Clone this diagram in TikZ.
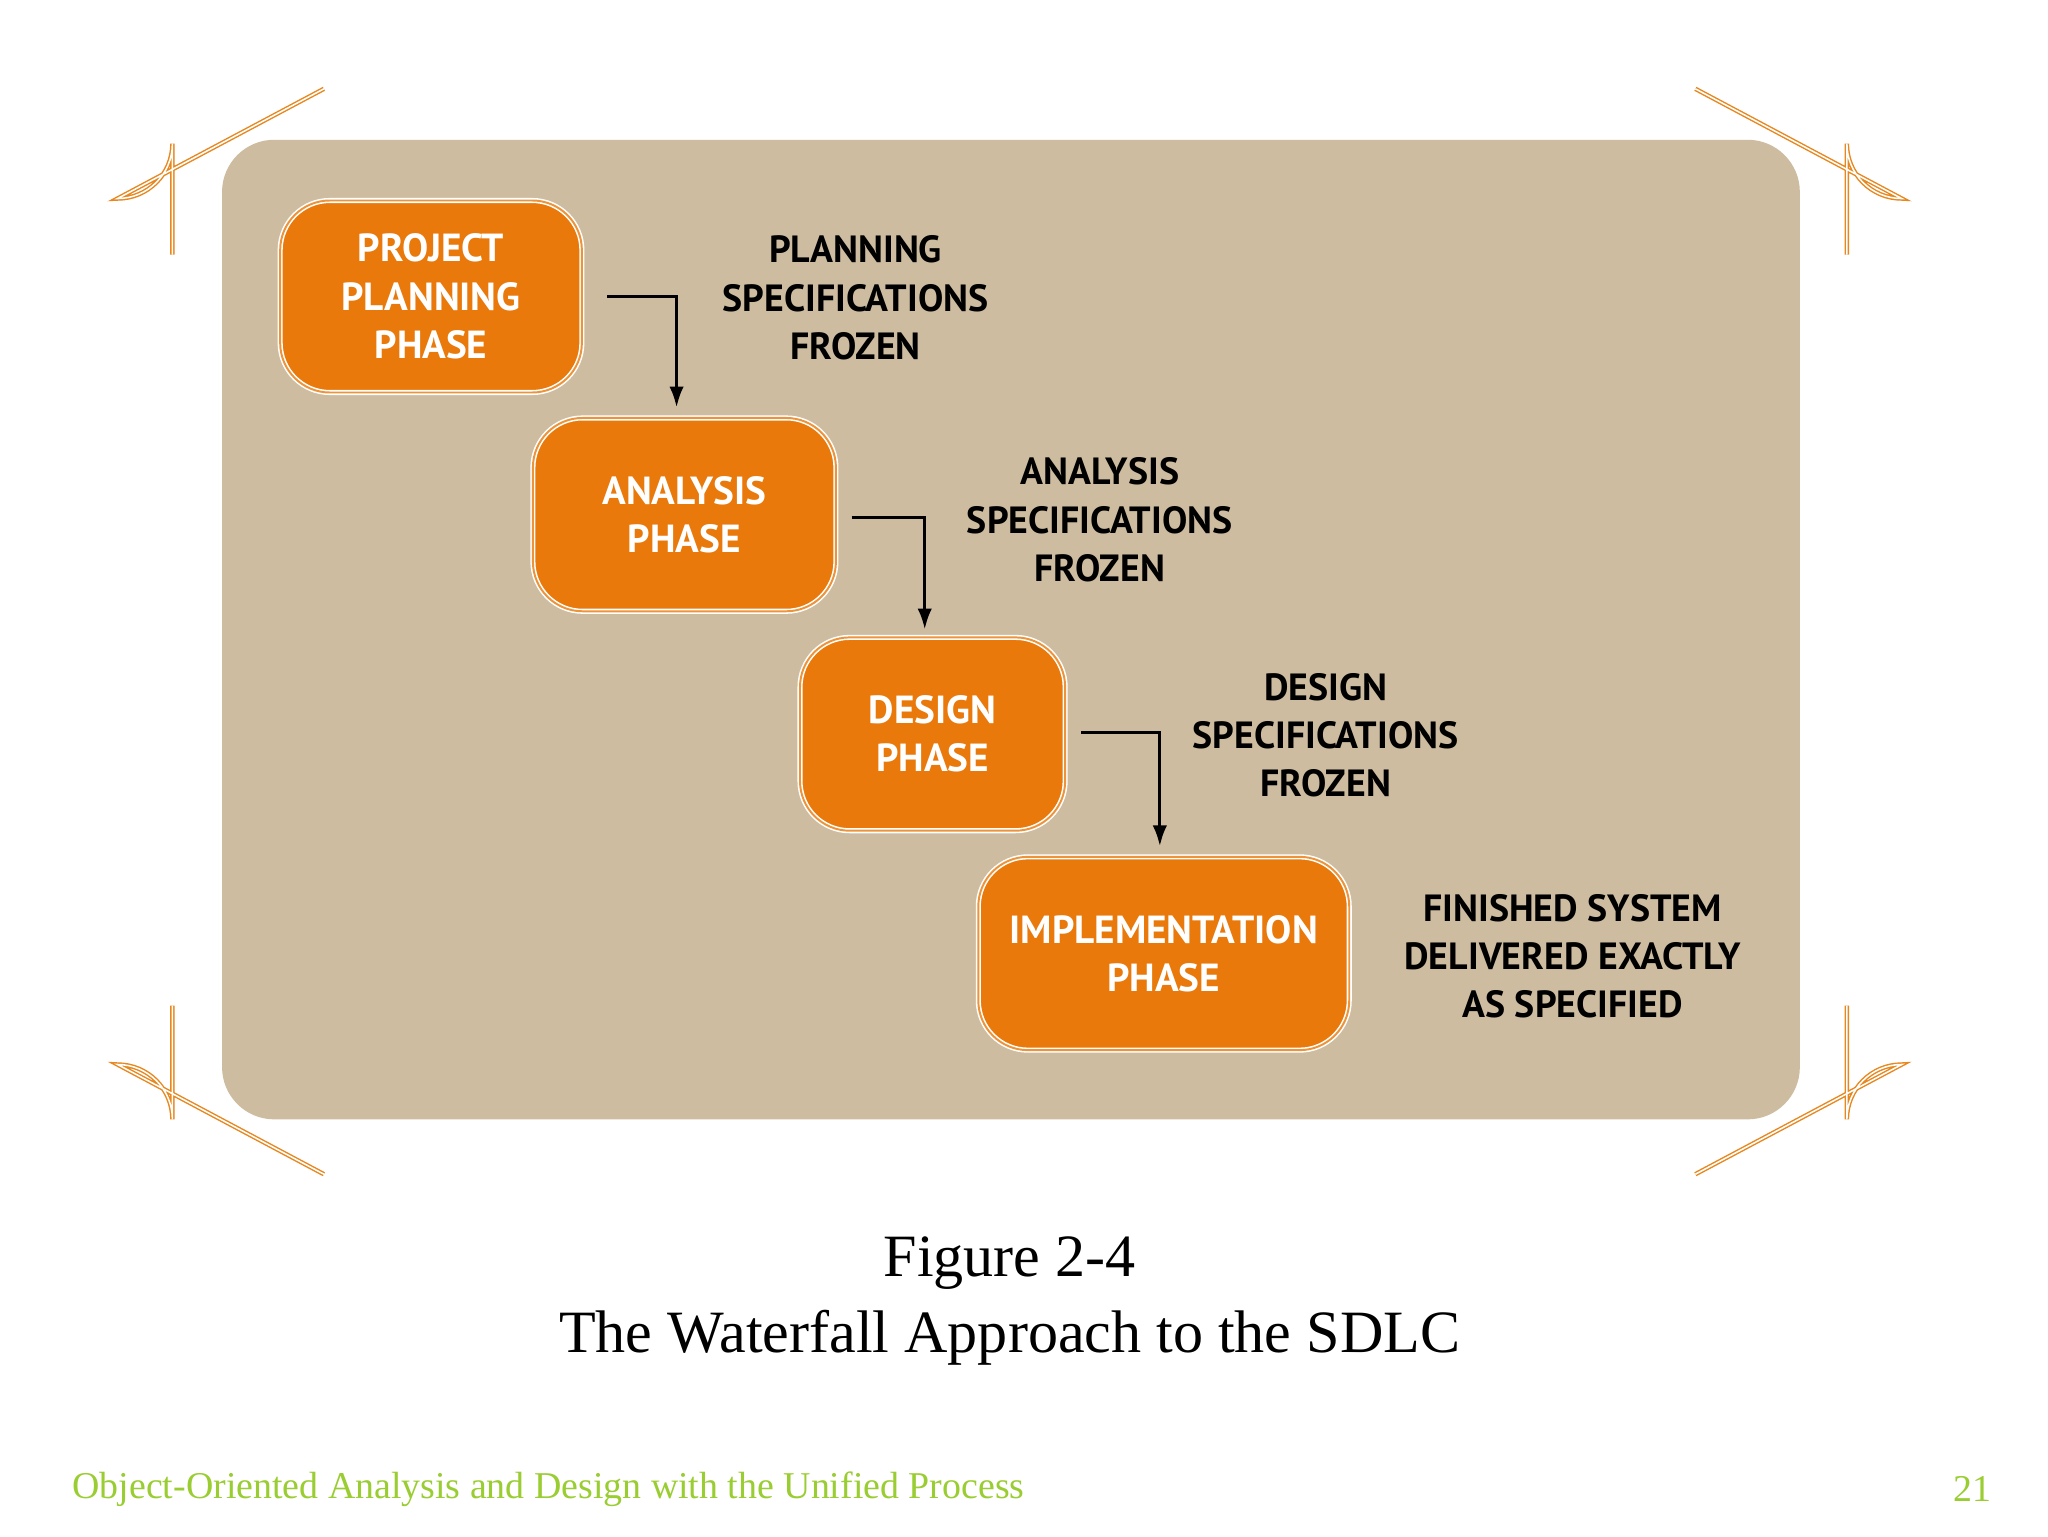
\documentclass[tikz,border=0pt]{standalone}
\usepackage{fontspec}
\setmainfont{Liberation Serif}
\newfontfamily\boxfont{PT Sans}
\definecolor{beige}{HTML}{CDBCA0}
\definecolor{phor}{HTML}{E8790A}
\definecolor{brk}{HTML}{E8871E}
\definecolor{foot}{HTML}{9ACD32}
\begin{document}
\begin{tikzpicture}[x=1pt,y=-1pt,
  phase/.style={draw=white,double=phor!80!white,double distance=1.5pt,line width=1.2pt,fill=phor,rounded corners=38pt,
    align=center,text=white,font=\boxfont\bfseries\fontsize{30}{37}\selectfont,inner sep=0pt},
  lbl/.style={align=center,font=\boxfont\bfseries\fontsize{29}{37}\selectfont},
  flow/.style={line width=2.5pt,-{Latex[length=16pt,width=11pt]}},
  brack/.style={brk,double=white,double distance=1.2pt,line width=1.1pt}]
\usetikzlibrary{arrows.meta}
\useasboundingbox (0,0) rectangle (1568,1176);
\fill[white] (0,0) rectangle (1568,1176);
\fill[beige,rounded corners=40pt] (170,107) rectangle (1378,857);
% brackets
\draw[brack] (132,195) -- (132,110) arc[start angle=180,end angle=270,radius=-42] -- (248,68);
\draw[brack] (1414,195) -- (1414,110) arc[start angle=0,end angle=-90,radius=-42] -- (1298,68);
\draw[brack] (132,770) -- (132,857) arc[start angle=180,end angle=90,radius=-42] -- (248,899);
\draw[brack] (1414,770) -- (1414,857) arc[start angle=0,end angle=90,radius=-42] -- (1298,899);
% phases
\node[phase,minimum width=231pt,minimum height=147pt] (p1) at (330,227) {PROJECT\\PLANNING\\PHASE};
\node[phase,minimum width=232pt,minimum height=148pt] (p2) at (524,394) {ANALYSIS\\PHASE};
\node[phase,minimum width=203pt,minimum height=148pt] (p3) at (714,562) {DESIGN\\PHASE};
\node[phase,minimum width=284pt,minimum height=148pt] (p4) at (891,730) {IMPLEMENTATION\\PHASE};
\coordinate (a1) at (465,227); \coordinate (b1) at (518,227);
\coordinate (a2) at (652,396); \coordinate (b2) at (708,396);
\coordinate (a3) at (828,561); \coordinate (b3) at (888,561);
\draw[flow] (a1) -- (b1) -- (518,312);
\draw[flow] (a2) -- (b2) -- (708,482);
\draw[flow] (a3) -- (b3) -- (888,648);
\node[lbl] (l1) at (655,228) {PLANNING\\SPECIFICATIONS\\FROZEN};
\node[lbl] (l2) at (842,398) {ANALYSIS\\SPECIFICATIONS\\FROZEN};
\node[lbl] (l3) at (1015,563) {DESIGN\\SPECIFICATIONS\\FROZEN};
\node[lbl] (l4) at (1204,732) {FINISHED SYSTEM\\DELIVERED EXACTLY\\AS SPECIFIED};
\node[font=\fontsize{46}{58}\selectfont,align=center] (cap) at (773,996) {Figure 2-4\\The Waterfall Approach to the SDLC};
\node[font=\fontsize{29}{34}\selectfont,text=foot,anchor=west] (ft) at (52,1140) {Object-Oriented Analysis and Design with the Unified Process};
\node[font=\fontsize{29}{34}\selectfont,text=foot,anchor=east] (pg) at (1528,1140) {21};
\end{tikzpicture}
\end{document}
